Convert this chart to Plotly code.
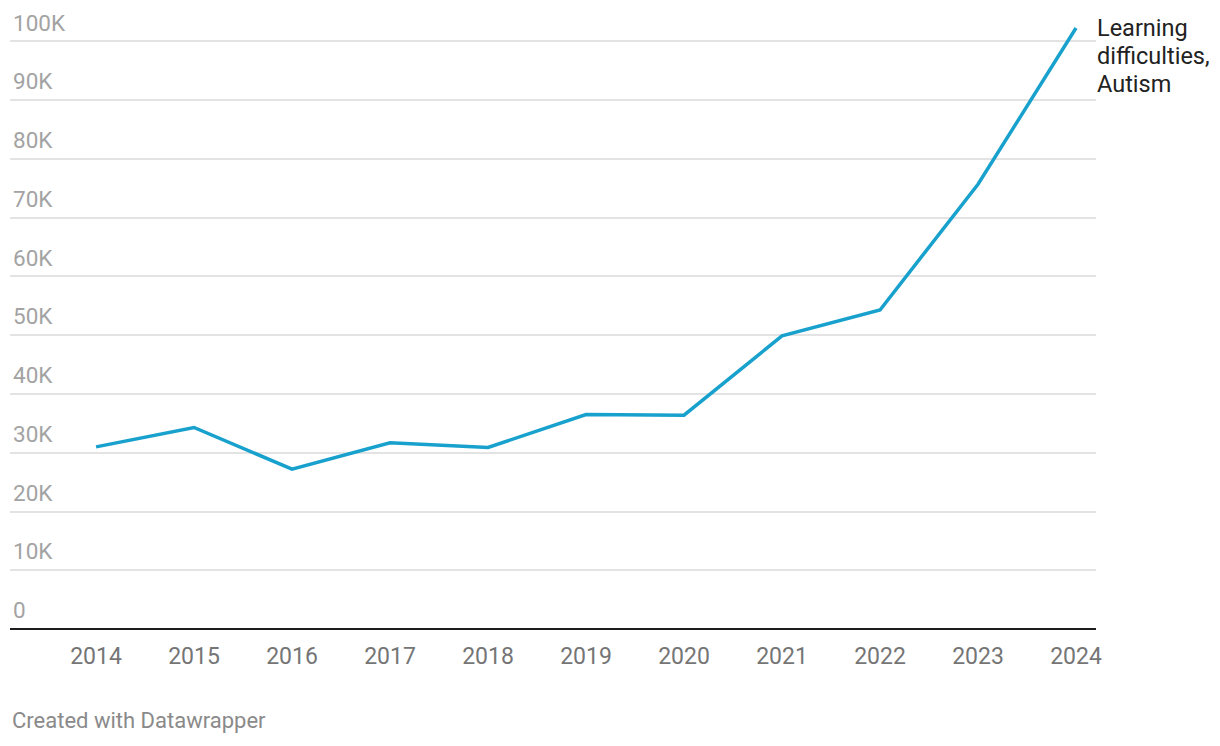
import plotly.graph_objects as go

years = [2014, 2015, 2016, 2017, 2018, 2019, 2020, 2021, 2022, 2023, 2024]
values = [31000, 34300, 27200, 31700, 30900, 36500, 36400, 49900, 54300, 75700, 102300]
series_name = "Learning difficulties, Autism"
label_lines = ["Learning", "difficulties,", "Autism"]
y_ticks = [0, 10000, 20000, 30000, 40000, 50000, 60000, 70000, 80000, 90000, 100000]
y_tick_text = ["0", "10K", "20K", "30K", "40K", "50K", "60K", "70K", "80K", "90K", "100K"]

FONT = "Roboto"
fig = go.Figure()
fig.add_trace(go.Scatter(
    x=years, y=values, mode="lines", name=series_name,
    line=dict(color="#18a1cd", width=3.5), hoverinfo="x+y",
))

for i, line in enumerate(label_lines):
    fig.add_annotation(
        x=years[-1], y=values[-1], xref="x", yref="y",
        text=line, showarrow=False,
        xanchor="left", yanchor="middle", align="left",
        xshift=19, yshift=-28 * i,
        font=dict(family=FONT, size=23.5, color="#222222"),
    )
fig.add_annotation(
    x=0, y=0, xref="paper", yref="paper", text="Created with Datawrapper",
    showarrow=False, xanchor="left", yanchor="middle", xshift=0, yshift=-91,
    font=dict(family=FONT, size=22, color="#8a8a8a"),
)

fig.update_layout(
    width=1220, height=746,
    margin=dict(l=2, r=132, t=0, b=125),
    paper_bgcolor="white", plot_bgcolor="white",
    showlegend=False,
    font=dict(family=FONT),
    xaxis=dict(
        range=[2013.122, 2024.204], tickvals=years, ticktext=[str(y) for y in years],
        showgrid=False, zeroline=False, showline=False, ticks="",
        tickfont=dict(family=FONT, size=23, color="#757575"),
        ticklabelstandoff=11,
    ),
    yaxis=dict(
        range=[0, 105700], tickvals=y_ticks, ticktext=y_tick_text,
        ticklabelposition="inside top", ticklabelshift=-3,
        showgrid=True, gridcolor="#e3e3e3", gridwidth=1.5,
        zeroline=True, zerolinecolor="#1d1d1d", zerolinewidth=2,
        showline=False, ticks="",
        tickfont=dict(family=FONT, size=22.5, color="#a3a3a3"),
    ),
)

fig.write_html("out.html")
